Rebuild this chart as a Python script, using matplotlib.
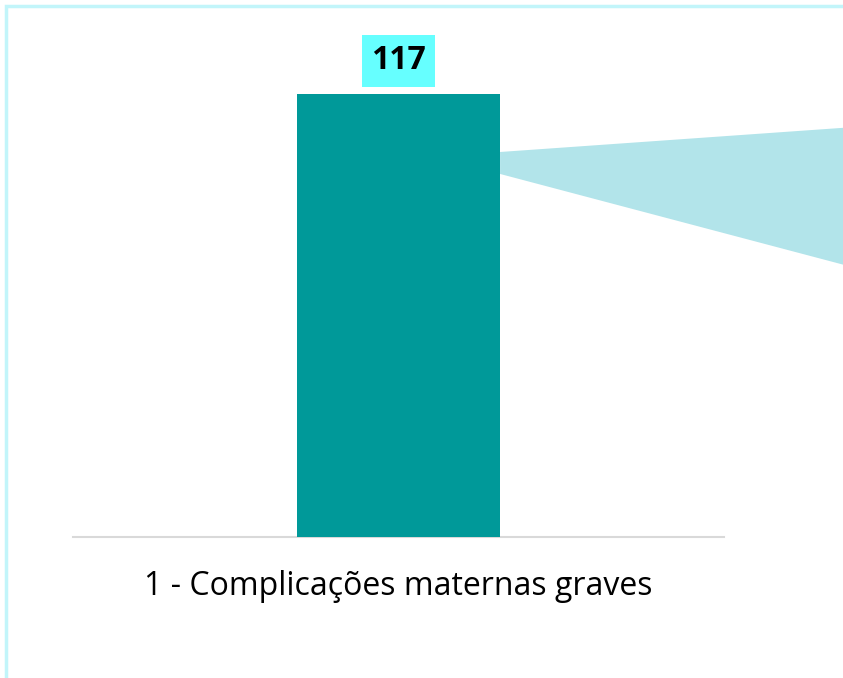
import matplotlib
matplotlib.use("Agg")
import matplotlib.pyplot as plt
from matplotlib.patches import Polygon, Rectangle

# ── data ------------------------------------------------------------------- #
categories = ["1 - Complicações maternas graves"]
values = [117]

# connector wedge toward the secondary chart (data units)
wedge_x = [0.156, 0.75]
wedge_top = [101.7, 108.9]
wedge_bottom = [95.9, 68.9]

bar_color = "#009999"
wedge_color = "#B2E4EA"
label_bg = "#66FFFF"
frame_color = "#C2F5FA"

W, H = 843, 678
fig = plt.figure(figsize=(W / 100, H / 100), dpi=100)
fig.patch.set_facecolor("white")

# axes box in pixel terms: x 73..724, baseline at y=537
ax = fig.add_axes([73 / W, (H - 537) / H, 651 / W, 530 / H])
ax.set_xlim(-0.5, 0.5)
ax.set_ylim(0, 140)

bars = ax.bar(range(len(values)), values, width=0.312, color=bar_color, zorder=3)

# wedge connector, drawn outside the axes on purpose
xr = bars[0].get_x() + bars[0].get_width()
poly = Polygon([(xr, wedge_top[0]), (wedge_x[1], wedge_top[1]),
                (wedge_x[1], wedge_bottom[1]), (xr, wedge_bottom[0])],
               closed=True, facecolor=wedge_color, edgecolor="none",
               clip_on=False, zorder=2)
ax.add_patch(poly)

# value label with filled box
for b, v in zip(bars, values):
    ax.annotate(f"{v}", (b.get_x() + b.get_width() / 2, v),
                xytext=(0, 24), textcoords="offset points",
                ha="center", va="center", fontsize=23, fontweight="bold",
                family="Open Sans", color="black",
                bbox=dict(boxstyle="square,pad=0.3", facecolor=label_bg,
                          edgecolor="none"))

# axis styling: only a light baseline
for s in ["top", "right", "left"]:
    ax.spines[s].set_visible(False)
ax.spines["bottom"].set_color("#D9D9D9")
ax.spines["bottom"].set_linewidth(1.5)
ax.set_yticks([])
ax.set_xticks(range(len(categories)))
ax.set_xticklabels(categories, fontsize=23, family="Open Sans")
ax.tick_params(axis="x", length=0, pad=24)
ax.patch.set_visible(False)

# chart-area frame
fig.add_artist(Rectangle((6 / W, -0.1), 1.2, 1 - 6 / H + 0.1,
                         transform=fig.transFigure, facecolor="none",
                         edgecolor=frame_color, linewidth=2.5))

fig.savefig("out.png", dpi=100, facecolor="white")
